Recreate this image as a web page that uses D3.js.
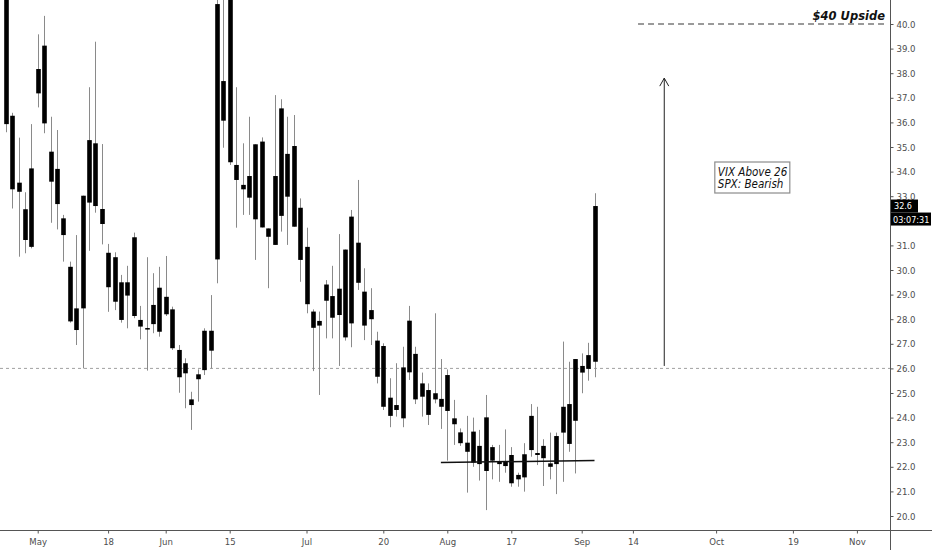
<!DOCTYPE html>
<html><head><meta charset="utf-8">
<script src="https://cdn.jsdelivr.net/npm/d3@7/dist/d3.min.js"></script>
<style>html,body{margin:0;padding:0;background:#fff;overflow:hidden}</style>
</head><body>
<svg id="c" width="932" height="550"></svg>
<script>
const dates = ["Apr 24","Apr 27","Apr 28","Apr 29","Apr 30","May 1","May 4","May 5","May 6","May 7","May 8","May 11","May 12","May 13","May 14","May 15","May 18","May 19","May 20","May 21","May 22","May 26","May 27","May 28","May 29","Jun 1","Jun 2","Jun 3","Jun 4","Jun 5","Jun 8","Jun 9","Jun 10","Jun 11","Jun 12","Jun 15","Jun 16","Jun 17","Jun 18","Jun 19","Jun 22","Jun 23","Jun 24","Jun 25","Jun 26","Jun 29","Jun 30","Jul 1","Jul 2","Jul 6","Jul 7","Jul 8","Jul 9","Jul 10","Jul 13","Jul 14","Jul 15","Jul 16","Jul 17","Jul 20","Jul 21","Jul 22","Jul 23","Jul 24","Jul 27","Jul 28","Jul 29","Jul 30","Jul 31","Aug 3","Aug 4","Aug 5","Aug 6","Aug 7","Aug 10","Aug 11","Aug 12","Aug 13","Aug 14","Aug 17","Aug 18","Aug 19","Aug 20","Aug 21","Aug 24","Aug 25","Aug 26","Aug 27","Aug 28","Aug 31","Sep 1","Sep 2","Sep 3"];
const openV  = [41.5,36.27,33.18,32.47,30.94,38.17,39.12,34.81,32.68,32.10,30.13,28.44,28.44,32.74,35.15,32.48,30.70,28.71,29.50,28.96,31.33,27.97,27.64,27.80,29.28,28.91,28.40,26.75,26.21,24.74,25.56,25.93,26.72,30.43,37.68,42.0,34.27,33.28,33.82,32.06,35.22,31.69,31.02,36.57,32.98,35.04,32.53,30.94,28.31,27.74,28.75,28.94,28.17,30.83,27.83,31.11,29.12,28.37,27.13,26.91,24.07,24.51,23.97,27.94,26.59,24.85,25.12,24.74,24.76,25.73,23.97,23.40,22.98,23.43,22.85,21.83,22.80,22.21,22.21,22.48,21.67,21.57,24.07,22.48,22.85,22.14,22.11,23.39,24.55,23.87,25.83,25.98,26.27];
const highV  = [42.2,36.39,35.38,33.16,35.93,39.58,40.33,36.23,35.69,32.24,30.34,31.42,33.02,37.43,39.28,35.12,31.06,30.72,29.80,30.17,31.52,28.54,30.52,29.87,30.13,30.57,28.51,26.95,26.41,25.05,25.96,27.63,28.98,41.6,44.4,44.0,37.43,35.15,36.23,35.11,35.39,31.69,37.11,36.94,36.23,36.30,32.91,31.72,28.40,28.31,29.59,30.17,31.46,30.83,32.44,33.66,30.07,29.26,27.49,27.02,25.60,26.21,26.88,28.54,26.88,25.83,25.39,28.24,26.38,25.96,24.72,23.56,24.07,24.00,23.50,24.92,22.89,22.89,23.52,22.80,21.76,22.96,24.55,24.44,23.12,23.39,23.39,27.09,26.27,26.38,26.61,27.04,33.12];
const lowV   = [35.6,32.5,30.54,30.68,30.88,36.61,35.56,31.92,31.65,30.34,27.86,26.95,26.0,30.78,32.33,31.04,28.30,28.37,27.86,27.63,28.04,27.18,25.91,27.43,27.29,28.13,26.75,25.01,24.38,23.50,24.65,25.73,26.00,29.46,34.97,34.27,31.72,32.24,32.24,30.41,31.73,29.26,31.02,31.56,31.02,31.76,29.52,28.24,25.89,24.92,27.22,27.22,26.10,27.13,26.86,29.19,27.15,26.95,25.39,24.31,23.61,24.04,23.61,25.53,24.55,24.04,23.70,24.58,23.54,22.25,22.89,22.85,20.95,22.00,21.44,20.24,21.49,21.39,21.76,21.19,21.19,20.99,22.41,22.07,21.22,21.49,20.89,21.39,22.61,21.73,24.99,25.50,25.64];
const closeV = [35.93,33.28,33.55,31.22,34.13,37.18,35.96,33.59,34.11,31.42,27.91,27.56,33.02,35.28,32.60,31.87,29.30,30.52,27.97,29.50,28.13,27.70,27.59,28.58,27.49,28.20,26.82,25.64,25.80,24.51,25.76,27.53,27.53,40.81,36.07,34.38,33.66,33.46,32.94,35.11,31.73,31.35,33.82,32.20,34.72,31.76,30.41,28.61,27.65,27.93,29.41,28.06,29.24,27.26,32.17,29.48,27.74,28.00,25.66,24.44,24.81,24.31,26.04,25.84,24.74,25.39,24.11,24.99,24.44,24.27,23.73,22.96,22.61,22.17,22.11,24.01,22.25,22.11,22.03,21.33,21.49,22.51,22.68,22.56,22.35,22.00,23.25,24.44,22.93,26.38,26.10,26.54,32.60];
const firstIndex = -5; // Apr 24 relative to May 1
const xTickLabels = ["May","18","Jun","15","Jul","20","Aug","17","Sep","14","Oct","19","Nov"];
const xTickIndex  = [0,11,20,30,42,54,64,74,85,93,106,118,128];
const yTicks = d3.range(20, 41, 1);
const lastPrice = 32.6, timerText = "03:07:31";
const levelLine = 26, targetLevel = 40;
const supportStart = [63, 22.17], supportEnd = [87, 22.26];
const arrowFrom = [97.9, 26.1], arrowTo = [97.9, 37.8];
const noteLines = ["VIX Above 26","SPX: Bearish"];
const targetText = "$40 Upside";

const W = 932, H = 550, plotR = 890, plotB = 530;
const font = "'DejaVu Sans Condensed','DejaVu Sans',sans-serif";
const svg = d3.select("#c");
const x = d3.scaleLinear().domain([0, 100]).range([37.7, 37.7 + 640]);
const y = d3.scaleLinear().domain([20, 40]).range([516, 24]);

const data = dates.map((d, i) => ({d, i: i + firstIndex, o: openV[i], h: highV[i], l: lowV[i], c: closeV[i]}));

svg.append("defs").append("clipPath").attr("id","pc").append("rect")
  .attr("x",0).attr("y",0).attr("width",plotR).attr("height",plotB);
const plot = svg.append("g").attr("clip-path","url(#pc)");

// 26 level dotted line
plot.append("line").attr("x1",0).attr("x2",plotR).attr("y1",y(levelLine)).attr("y2",y(levelLine))
  .attr("stroke","#a0a0a0").attr("stroke-width",1).attr("stroke-dasharray","3,3");

// 40 target dashed line
plot.append("line").attr("x1",x(93.8)).attr("x2",plotR-2).attr("y1",y(targetLevel)).attr("y2",y(targetLevel))
  .attr("stroke","#7a7a7a").attr("stroke-width",1.5).attr("stroke-dasharray","6,4");

// wicks
plot.selectAll("line.w").data(data).enter().append("line").attr("class","w")
  .attr("x1", d => Math.round(x(d.i)) + 0.5).attr("x2", d => Math.round(x(d.i)) + 0.5)
  .attr("y1", d => y(d.h)).attr("y2", d => y(d.l))
  .attr("stroke","#8a8a8a").attr("stroke-width",1);
// bodies
const bw = 4.6;
plot.selectAll("rect.b").data(data).enter().append("rect").attr("class","b")
  .attr("x", d => Math.round(x(d.i)) + 0.5 - bw/2)
  .attr("width", bw)
  .attr("y", d => y(Math.max(d.o, d.c)))
  .attr("height", d => Math.max(1.5, Math.abs(y(d.o) - y(d.c))))
  .attr("fill","#000");

// support line
plot.append("line").attr("x1",x(supportStart[0])).attr("y1",y(supportStart[1]))
  .attr("x2",x(supportEnd[0])).attr("y2",y(supportEnd[1]))
  .attr("stroke","#111").attr("stroke-width",1.5);

// arrow
const ax = x(arrowFrom[0]);
plot.append("line").attr("x1",ax).attr("x2",ax).attr("y1",y(arrowFrom[1])).attr("y2",y(arrowTo[1]))
  .attr("stroke","#222").attr("stroke-width",1);
plot.append("path").attr("d",`M${ax-4.5},${y(arrowTo[1])+8}L${ax},${y(arrowTo[1])}L${ax+4.5},${y(arrowTo[1])+8}`)
  .attr("fill","none").attr("stroke","#222").attr("stroke-width",1);

// note box
const nb = plot.append("g");
const bx = x(105.8), by = y(34.39);
nb.append("rect").attr("x",bx).attr("y",by).attr("width",75).attr("height",31)
  .attr("fill","#fff").attr("stroke","#8c8c8c").attr("stroke-width",1.2);
noteLines.forEach((t,k) => nb.append("text").attr("x",bx+3).attr("y",by+13.5+k*12.5)
  .attr("font-family",font).attr("font-style","italic").attr("font-size",11.5)
  .attr("fill","#111").text(t));

// target text
plot.append("text").attr("x",885).attr("y",y(targetLevel)-4).attr("text-anchor","end")
  .attr("font-family","'DejaVu Sans',sans-serif").attr("font-style","italic").attr("font-weight","bold")
  .attr("font-size",11.5).attr("fill","#111").text(targetText);

// axes lines
svg.append("line").attr("x1",plotR+0.5).attr("x2",plotR+0.5).attr("y1",0).attr("y2",H).attr("stroke","#555");
svg.append("line").attr("x1",0).attr("x2",W).attr("y1",plotB+0.5).attr("y2",plotB+0.5).attr("stroke","#555");

// y axis (labels hidden behind the price tag are not drawn, as in the reference)
const py = y(lastPrice);
const yAxis = d3.axisRight(y).tickValues(yTicks)
  .tickFormat(d => (Math.abs(y(d) - (py + 13)) < 8) ? "" : d3.format(".1f")(d))
  .tickSize(3).tickPadding(3);
const gy = svg.append("g").attr("transform",`translate(${plotR+0.5},0)`).call(yAxis);
gy.select(".domain").remove();
gy.selectAll("line").attr("stroke","#555");
gy.selectAll("text").attr("font-family",font).attr("font-size",9.5).attr("fill","#4d4d4d");

// x axis
const xAxis = d3.axisBottom(x).tickValues(xTickIndex).tickFormat((d,k) => xTickLabels[k]).tickSize(3).tickPadding(5);
const gx = svg.append("g").attr("transform",`translate(0,${plotB+0.5})`).call(xAxis);
gx.select(".domain").remove();
gx.selectAll("line").attr("stroke","#555");
gx.selectAll("text").attr("font-family",font).attr("font-size",9.5).attr("fill","#4d4d4d");

// price labels
svg.append("rect").attr("x",plotR+1).attr("y",py-6.5).attr("width",27).attr("height",13).attr("fill","#000");
svg.append("text").attr("x",plotR+4).attr("y",py+3).attr("font-family",font).attr("font-size",9)
  .attr("fill","#fff").text(d3.format(".1f")(lastPrice));
svg.append("rect").attr("x",plotR+1).attr("y",py+6.5).attr("width",40).attr("height",13).attr("fill","#000");
svg.append("text").attr("x",plotR+3).attr("y",py+17).attr("font-family",font).attr("font-size",9)
  .attr("fill","#fff").text(timerText);
</script>
</body></html>
